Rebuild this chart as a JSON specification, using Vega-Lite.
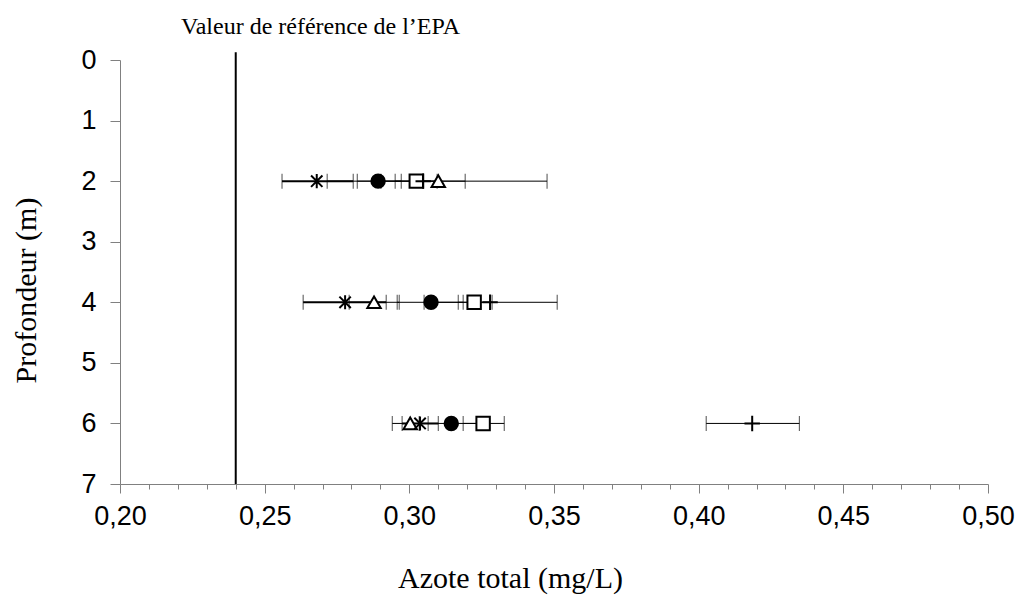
{
  "$schema": "https://vega.github.io/schema/vega-lite/v6.json",
  "width": 868,
  "height": 424,
  "autosize": "none",
  "padding": {"left": 120, "top": 60, "right": 33, "bottom": 114},
  "background": "white",
  "config": {"view": {"stroke": null}},
  "title": {"text": "Valeur de référence de l’EPA", "anchor": "start", "frame": "group", "dx": 61, "offset": -12, "baseline": "alphabetic", "font": "Liberation Serif", "fontSize": 24, "fontWeight": "normal", "color": "black"},
  "datasets": {
    "pts": [
      {"serie": "S1", "profondeur": 2, "azote": 0.2680, "bas": 0.2560, "haut": 0.2806},
      {"serie": "S2", "profondeur": 2, "azote": 0.2892, "bas": 0.2820, "haut": 0.2972},
      {"serie": "S3", "profondeur": 2, "azote": 0.3024, "bas": 0.2951, "haut": 0.3096},
      {"serie": "S5", "profondeur": 2, "azote": 0.3048, "bas": 0.2902, "haut": 0.3193},
      {"serie": "S4", "profondeur": 2, "azote": 0.3100, "bas": 0.2716, "haut": 0.3476},
      {"serie": "S1", "profondeur": 4, "azote": 0.2778, "bas": 0.2633, "haut": 0.2920},
      {"serie": "S4", "profondeur": 4, "azote": 0.2878, "bas": 0.2792, "haut": 0.2965},
      {"serie": "S2", "profondeur": 4, "azote": 0.3075, "bas": 0.2958, "haut": 0.3186},
      {"serie": "S3", "profondeur": 4, "azote": 0.3224, "bas": 0.3169, "haut": 0.3286},
      {"serie": "S5", "profondeur": 4, "azote": 0.3279, "bas": 0.3051, "haut": 0.3511},
      {"serie": "S4", "profondeur": 6, "azote": 0.3003, "bas": 0.2941, "haut": 0.3065},
      {"serie": "S1", "profondeur": 6, "azote": 0.3037, "bas": 0.2975, "haut": 0.3100},
      {"serie": "S2", "profondeur": 6, "azote": 0.3145, "bas": 0.3034, "haut": 0.3255},
      {"serie": "S3", "profondeur": 6, "azote": 0.3255, "bas": 0.3186, "haut": 0.3328},
      {"serie": "S5", "profondeur": 6, "azote": 0.4185, "bas": 0.4026, "haut": 0.4348}
    ],
    "epa": [{"azote": 0.24, "haut": -0.13, "bas": 7}]
  },
  "layer": [
    {
      "data": {"name": "epa"},
      "mark": {"type": "rule", "color": "black", "strokeWidth": 2},
      "encoding": {
        "x": {"field": "azote", "type": "quantitative",
          "scale": {"domain": [0.2, 0.5], "nice": false, "zero": false},
          "axis": {
            "title": "Azote total (mg/L)",
            "values": [0.2,0.21,0.22,0.23,0.24,0.25,0.26,0.27,0.28,0.29,0.3,0.31,0.32,0.33,0.34,0.35,0.36,0.37,0.38,0.39,0.4,0.41,0.42,0.43,0.44,0.45,0.46,0.47,0.48,0.49,0.5],
            "tickCount": 100,
            "labelExpr": "abs(datum.value*20 - round(datum.value*20)) < 0.001 ? replace(format(datum.value, '.2f'), '.', ',') : ''",
            "tickSize": {"condition": {"test": "abs(datum.value*20 - round(datum.value*20)) < 0.001", "value": 9}, "value": 5},
            "grid": false,
            "domainColor": "#808080",
            "tickColor": "#808080",
            "labelFont": "Liberation Sans",
            "labelFontSize": 27,
            "labelColor": "black",
            "labelPadding": 10,
            "labelFlush": false,
            "labelOverlap": false,
            "labelBound": false,
            "titleFont": "Liberation Serif",
            "titleFontSize": 30,
            "titleFontWeight": "normal",
            "titleColor": "black",
            "titlePadding": 34,
            "titleX": 390
          }
        },
        "y": {"field": "haut", "type": "quantitative",
          "scale": {"domain": [0, 7], "nice": false, "reverse": true, "zero": false},
          "axis": {
            "title": "Profondeur (m)",
            "values": [0,1,2,3,4,5,6,7],
            "format": "d",
            "grid": false,
            "domainColor": "#808080",
            "tickColor": "#808080",
            "tickSize": 10,
            "labelFont": "Liberation Sans",
            "labelFontSize": 27,
            "labelColor": "black",
            "labelPadding": 14,
            "labelFlush": false,
            "labelOverlap": false,
            "titleFont": "Liberation Serif",
            "titleFontSize": 30,
            "titleFontWeight": "normal",
            "titleColor": "black",
            "titlePadding": 39,
            "titleY": 230
          }
        },
        "y2": {"field": "bas"}
      }
    },
    {
      "data": {"name": "pts"},
      "mark": {"type": "rule", "color": "black"},
      "encoding": {
        "x": {"field": "bas", "type": "quantitative"},
        "x2": {"field": "haut"},
        "y": {"field": "profondeur", "type": "quantitative"},
        "strokeWidth": {"condition": {"test": "datum.serie === 'S1'", "value": 2}, "value": 1}
      }
    },
    {
      "data": {"name": "pts"},
      "mark": {"type": "tick", "orient": "vertical", "color": "black", "size": 15},
      "encoding": {
        "x": {"field": "bas", "type": "quantitative"},
        "y": {"field": "profondeur", "type": "quantitative"},
        "thickness": {"condition": {"test": "datum.serie === 'S1'", "value": 2}, "value": 1}
      }
    },
    {
      "data": {"name": "pts"},
      "mark": {"type": "tick", "orient": "vertical", "color": "black", "size": 15},
      "encoding": {
        "x": {"field": "haut", "type": "quantitative"},
        "y": {"field": "profondeur", "type": "quantitative"},
        "thickness": {"condition": {"test": "datum.serie === 'S1'", "value": 2}, "value": 1}
      }
    },
    {
      "data": {"name": "pts"},
      "mark": {"type": "point", "filled": false, "stroke": "black", "strokeWidth": 2, "size": 180, "opacity": 1},
      "encoding": {
        "x": {"field": "azote", "type": "quantitative"},
        "y": {"field": "profondeur", "type": "quantitative"},
        "shape": {"field": "serie", "type": "nominal", "legend": null,
          "scale": {"domain": ["S1", "S2", "S3", "S4", "S5"],
            "range": ["M-0.85,-0.85L0.85,0.85M-0.85,0.85L0.85,-0.85M0,-1.05L0,1.05", "circle", "square", "triangle-up", "M-1.15,0L1.15,0M0,-1.15L0,1.15"]}},
        "fill": {"field": "serie", "type": "nominal", "legend": null,
          "scale": {"domain": ["S1", "S2", "S3", "S4", "S5"],
            "range": ["transparent", "black", "white", "white", "transparent"]}}
      }
    }
  ]
}
